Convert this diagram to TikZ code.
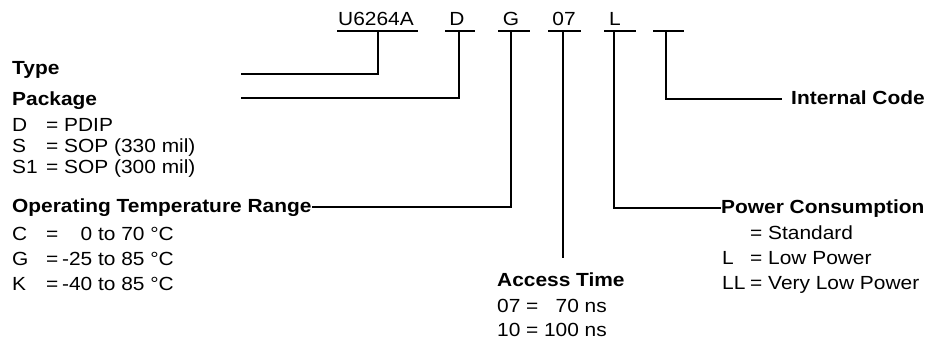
\documentclass[tikz,border=0pt]{standalone}
\usepackage{fontspec}
\setmainfont{Liberation Sans}[FakeStretch=1.1]
\begin{document}
\begin{tikzpicture}[x=1pt,y=-1pt,
  txt/.style={anchor=base west,inner sep=0pt,font=\fontsize{19}{23}\selectfont},
  txtr/.style={txt,anchor=base east},
  hd/.style={txt,font=\fontsize{19}{23}\selectfont\bfseries},
  code/.style={anchor=base,inner sep=0pt,font=\fontsize{19}{23}\selectfont},
  ln/.style={line width=1.7pt},
]
\useasboundingbox (0,0) rectangle (936,340);
% top code row
\node[code] (nU) at (376,25) {U6264A};
\node[code] (nD) at (457,25) {D};
\node[code] (nG) at (511,25) {G};
\node[code] (n07) at (564,25) {07};
\node[code] (nL) at (615,25) {L};
% underline ends and stems
\coordinate (uU1) at (337,31); \coordinate (uU2) at (418,31); \coordinate (bU) at (378,31);
\coordinate (uD1) at (445,31); \coordinate (uD2) at (475,31); \coordinate (bD) at (459,31);
\coordinate (uG1) at (498,31); \coordinate (uG2) at (530,31); \coordinate (bG) at (511,31);
\coordinate (u71) at (548,31); \coordinate (u72) at (581,31); \coordinate (b07) at (563,31);
\coordinate (uL1) at (604,31); \coordinate (uL2) at (636,31); \coordinate (bL) at (614,31);
\coordinate (uX1) at (653,31); \coordinate (uX2) at (684,31); \coordinate (bX) at (666,31);
\foreach \a/\b in {uU1/uU2,uD1/uD2,uG1/uG2,u71/u72,uL1/uL2,uX1/uX2}
  \draw[ln] (\a) -- (\b);
% Type
\node[hd] (type) at (12,74) {Type};
\coordinate (typeEnd) at (241,74);
\draw[ln] (bU) |- (typeEnd);
% Package
\node[hd] (pkg) at (12,105) {Package};
\coordinate (pkgEnd) at (241,98);
\draw[ln] (bD) |- (pkgEnd);
\node[txt] (pD) at (12,131) {D};  \node[txt] (pDv) at (46,131) {= PDIP};
\node[txt] (pS) at (12,152) {S};  \node[txt] (pSv) at (46,152) {= SOP (330 mil)};
\node[txt] (pS1) at (12,173) {S1}; \node[txt] (pS1v) at (46,173) {= SOP (300 mil)};
% Operating temperature
\node[hd] (op) at (12,212) {Operating Temperature Range};
\draw[ln] (bG) |- (op.east);
\node[txt] (tC) at (12,240) {C}; \node[txt] (tCe) at (46,240) {=}; \node[txtr] (tCv) at (174,240) {0 to 70 °C};
\node[txt] (tG) at (12,265) {G}; \node[txt] (tGe) at (46,265) {=}; \node[txtr] (tGv) at (174,265) {-25 to 85 °C};
\node[txt] (tK) at (12,290) {K}; \node[txt] (tKe) at (46,290) {=}; \node[txtr] (tKv) at (174,290) {-40 to 85 °C};
% Access time
\coordinate (accTop) at (563,258);
\draw[ln] (b07) -- (accTop);
\node[hd] (acc) at (497,286) {Access Time};
\node[txt] (a07) at (497,312) {07 =}; \node[txtr] (a07v) at (607,312) {70 ns};
\node[txt] (a10) at (497,336) {10 =}; \node[txtr] (a10v) at (607,336) {100 ns};
% Power consumption
\node[hd] (pc) at (721,213) {Power Consumption};
\draw[ln] (bL) |- (pc.west);
\node[txt] (wS) at (750,239) {= Standard};
\node[txt] (wL) at (722,264) {L};  \node[txt] (wLv) at (750,264) {= Low Power};
\node[txt] (wLL) at (722,289) {LL}; \node[txt] (wLLv) at (750,289) {= Very Low Power};
% Internal code
\node[hd] (ic) at (791,104) {Internal Code};
\coordinate (icEnd) at (782,99);
\draw[ln] (bX) |- (icEnd);
\end{tikzpicture}
\end{document}
